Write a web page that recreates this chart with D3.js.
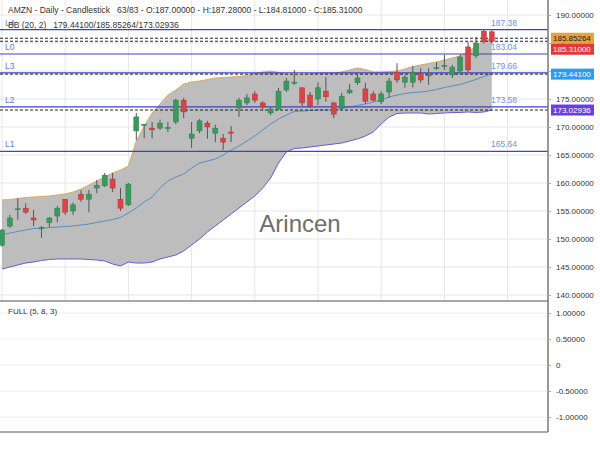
<!DOCTYPE html>
<html><head><meta charset="utf-8">
<script src="https://cdn.jsdelivr.net/npm/d3@7/dist/d3.min.js"></script>
<style>body{margin:0;background:#fff}svg{display:block;font-family:"Liberation Sans",Arial,sans-serif}</style>
</head><body><svg id="c" width="600" height="450"></svg>
<script>
const openV=[148.9,152.3,155.3,155.5,153.75,151.9,152.9,154.1,157.1,155.0,158.0,157.1,159.1,159.5,160.7,157.1,156.1,169.3,170.3,169.8,169.8,169.8,170.9,174.8,168.0,169.3,170.7,168.9,168.0,169.1,173.4,174.3,175.9,174.3,172.5,173.2,176.6,177.9,177.0,175.7,175.0,176.4,174.3,173.4,176.1,177.9,176.8,175.9,174.5,176.25,179.8,178.0,178.0,179.6,179.2,180.5,180.9,179.3,180.0,184.3,182.7,187.1,187.0];
const highV=[151.8,154.3,157.3,156.4,155.2,152.3,153.9,155.9,157.1,156.5,158.75,158.75,160.5,161.8,161.8,159.1,160.0,172.5,170.5,170.9,171.3,170.9,175.0,175.2,170.9,171.4,171.1,170.4,168.75,170.2,175.2,175.9,176.4,174.6,173.6,177.0,178.75,180.2,177.1,176.25,178.0,178.9,174.5,176.1,177.7,179.3,177.9,176.4,176.4,178.75,181.4,179.3,180.9,180.5,180.5,181.6,182.9,181.1,183.0,185.2,186.1,187.4,187.28];
const lowV=[148.6,152.0,153.4,154.5,152.3,150.2,152.1,153.0,154.3,154.3,156.6,154.8,158.2,159.3,158.4,155.0,155.9,167.7,168.0,168.0,169.5,169.1,170.5,171.6,166.25,168.9,167.9,167.3,165.9,167.3,171.8,173.9,174.3,173.0,172.1,173.0,176.25,177.5,173.6,173.4,173.9,174.5,171.6,173.0,175.9,177.5,174.1,174.5,174.1,175.2,177.9,177.0,177.1,177.9,177.5,180.2,180.2,178.75,179.8,179.8,182.3,184.9,184.81];
const closeV=[151.6,153.75,155.4,154.8,153.4,152.0,153.75,155.5,154.8,156.1,157.1,158.0,159.6,161.4,159.1,155.5,159.8,171.8,170.5,169.5,170.7,169.9,174.8,172.7,168.75,171.1,170.0,169.8,167.3,168.9,174.8,175.2,174.8,173.6,173.2,176.4,178.2,178.0,174.3,173.75,177.0,175.4,172.3,175.5,176.6,178.75,174.6,174.8,175.9,178.2,178.4,178.9,179.8,178.4,179.3,180.6,181.0,180.7,182.5,180.2,185.0,185.3,185.31];
const bbUpper=[156.96,157.05,157.23,157.41,157.50,157.59,157.68,157.86,158.04,158.39,158.93,159.64,160.36,161.07,161.79,162.32,163.04,167.50,170.18,172.50,174.11,175.71,176.61,177.68,178.04,178.21,178.48,178.75,178.84,178.93,179.02,179.20,179.55,179.82,180.00,179.73,179.38,179.29,179.38,179.46,179.55,179.64,179.64,179.82,180.18,180.54,180.27,179.82,179.82,179.91,180.00,180.36,180.80,181.07,181.34,181.61,181.96,182.32,182.68,183.39,184.46,185.36,185.85264];
const bbMiddle=[150.71,151.07,151.34,151.61,151.88,151.96,152.05,152.14,152.23,152.32,152.50,152.68,152.95,153.21,153.48,153.84,154.64,155.54,156.61,157.50,159.11,160.36,161.07,161.61,162.68,163.57,163.93,164.29,165.00,165.89,166.61,167.50,168.39,169.46,170.54,171.43,172.14,172.77,172.86,172.95,173.04,173.04,173.04,173.30,173.57,173.84,174.11,174.46,174.82,175.36,175.71,175.98,176.16,176.25,176.43,176.70,177.05,177.32,177.59,178.04,178.48,179.02,179.441];
const bbLower=[144.64,145.00,145.36,145.71,145.89,146.16,146.34,146.43,146.43,146.43,146.43,146.34,146.25,146.07,145.54,145.18,145.89,145.71,145.71,145.89,146.43,146.79,147.14,147.86,148.93,150.00,151.25,152.32,153.39,154.46,155.54,156.61,157.68,159.11,160.89,163.57,165.54,166.16,166.25,166.43,166.61,166.79,166.96,167.14,167.50,167.86,168.39,169.11,170.54,171.79,172.41,172.50,172.50,172.50,172.32,172.41,172.50,172.59,172.59,172.68,172.59,172.68,173.02936];
const levelNames=["L4","L0","L3","L2","L1"];
const levelValues=[187.38,183.04,179.66,173.58,165.64];
const markerValues=[185.85264,185.31,179.441,173.02936];
const markerLabels=["185.85264","185.31000","179.44100","173.02936"];
const markerColors=["#e6a23c","#e0393b","#2b9cf2","#6a3fe0"];
const markerText=["#222","#fff","#fff","#fff"];
const markerOffset=[0,8,0,0];
const priceTicks=[140,145,150,155,160,165,170,175,180,185,190];
const oscTicks=[1,0.5,0,-0.5,-1];
const oscTickLabels=["1.00000","0.50000","0","-0.50000","-1.00000"];
const headerText="AMZN - Daily - Candlestick   63/83 - O:187.00000 - H:187.28000 - L:184.81000 - C:185.31000";
const bbText="BB (20, 2)   179.44100/185.85264/173.02936";

const svg=d3.select("#c");
const W=548;
const n=openV.length;
const x=d3.scaleLinear().domain([0,n-1]).range([2,491.8]);
const y=d3.scaleLinear().domain([140,190]).range([295,15]);
const y2=d3.scaleLinear().domain([-1,1]).range([417,313]);
const idx=d3.range(n);

// grid main
const g=svg.append("g");
g.selectAll(".hg").data(priceTicks).join("line").attr("x1",0).attr("x2",W)
 .attr("y1",d=>y(d)).attr("y2",d=>y(d)).attr("stroke","#e6e6e6");
g.selectAll(".vg").data(d3.range(0,70,8)).join("line").attr("x1",d=>x(d)).attr("x2",d=>x(d))
 .attr("y1",0).attr("y2",301).attr("stroke","#e6e6e6");
g.selectAll(".hg2").data(oscTicks).join("line").attr("x1",0).attr("x2",W)
 .attr("y1",d=>y2(d)).attr("y2",d=>y2(d)).attr("stroke","#ececec");

// band
svg.append("path").datum(idx).attr("fill","#bdbdbd")
 .attr("d",d3.area().x(i=>x(i)).y0(i=>y(bbLower[i])).y1(i=>y(bbUpper[i])));
const line=arr=>d3.line().x(i=>x(i)).y(i=>y(arr[i]));
svg.append("path").datum(idx).attr("fill","none").attr("stroke","#d7aa60").attr("stroke-width",1).attr("d",line(bbUpper));
svg.append("path").datum(idx).attr("fill","none").attr("stroke","#6a58d8").attr("stroke-width",1).attr("d",line(bbLower));
svg.append("path").datum(idx).attr("fill","none").attr("stroke","#5b8cc0").attr("stroke-width",1).attr("d",line(bbMiddle));

// watermark
svg.append("text").attr("x",300).attr("y",232).attr("text-anchor","middle")
 .attr("font-size",24).attr("fill","#6d6d6d").text("Arincen");

// level lines
svg.selectAll(".lv").data(levelValues).join("line").attr("x1",0).attr("x2",W)
 .attr("y1",d=>y(d)).attr("y2",d=>y(d)).attr("stroke","#4040cc").attr("stroke-width",1.2);
svg.selectAll(".lvn").data(levelNames).join("text").attr("x",5).attr("y",(d,i)=>y(levelValues[i])-4)
 .attr("font-size",8.5).attr("fill","#5a7de0").text(d=>d);
svg.selectAll(".lvv").data(levelValues).join("text").attr("x",491).attr("y",d=>y(d)-4)
 .attr("font-size",8.5).attr("fill","#6a8ff0").text(d=>d.toFixed(2));

// dashed marker lines
svg.selectAll(".mk").data(markerValues).join("line").attr("x1",0).attr("x2",W)
 .attr("y1",d=>y(d)).attr("y2",d=>y(d)).attr("stroke","#222").attr("stroke-width",1).attr("stroke-dasharray","3,2");

// candles
const cg=svg.append("g");
idx.forEach(i=>{
  const up=closeV[i]>=openV[i];
  const col=up?"#3a9a5c":"#d94444";
  cg.append("line").attr("x1",x(i)).attr("x2",x(i)).attr("y1",y(highV[i])).attr("y2",y(lowV[i]))
    .attr("stroke","#555").attr("stroke-width",1);
  const top=y(Math.max(openV[i],closeV[i])), bot=y(Math.min(openV[i],closeV[i]));
  cg.append("rect").attr("x",x(i)-2.5).attr("y",top).attr("width",5).attr("height",Math.max(1,bot-top))
    .attr("fill",col).attr("stroke",up?"#2f8050":"#b83535").attr("stroke-width",0.5);
});

// panel borders
svg.append("rect").attr("x",W).attr("y",0).attr("width",52).attr("height",450).attr("fill","#fff");
svg.append("line").attr("x1",0).attr("x2",W).attr("y1",301).attr("y2",301).attr("stroke","#555").attr("stroke-width",1);
svg.append("line").attr("x1",0).attr("x2",W).attr("y1",432).attr("y2",432).attr("stroke","#555").attr("stroke-width",1);
svg.append("line").attr("x1",W).attr("x2",W).attr("y1",0).attr("y2",432).attr("stroke","#777").attr("stroke-width",1.5);

// axis labels
const ax=d3.axisRight(y).tickValues(priceTicks).tickFormat(d=>d.toFixed(5)).tickSize(3).tickPadding(5);
const axg=svg.append("g").attr("transform",`translate(${W},0)`).call(ax);
axg.select(".domain").remove();
axg.selectAll("text").attr("font-size",8).attr("fill","#333").attr("font-family","Liberation Sans, Arial, sans-serif");
axg.selectAll("line").attr("stroke","#aaa");
const ax2=d3.axisRight(y2).tickValues(oscTicks).tickFormat((d,i)=>oscTickLabels[i]).tickSize(3).tickPadding(5);
const ax2g=svg.append("g").attr("transform",`translate(${W},0)`).call(ax2);
ax2g.select(".domain").remove();
ax2g.selectAll("text").attr("font-size",8).attr("fill","#333").attr("font-family","Liberation Sans, Arial, sans-serif");
ax2g.selectAll("line").attr("stroke","#aaa");

// marker boxes
markerValues.forEach((v,i)=>{
  const cy=y(v)+markerOffset[i];
  svg.append("rect").attr("x",551).attr("y",cy-5.5).attr("width",43).attr("height",11).attr("fill",markerColors[i]);
  svg.append("text").attr("x",553).attr("y",cy+3).attr("font-size",8).attr("fill",markerText[i]).text(markerLabels[i]);
});

// header texts
svg.append("text").attr("x",8).attr("y",13).attr("font-size",8.5).attr("fill","#333").attr("xml:space","preserve").style("white-space","pre").text(headerText);
svg.append("text").attr("x",8).attr("y",28).attr("font-size",8.5).attr("fill","#333").style("white-space","pre").text(bbText);
svg.append("text").attr("x",8).attr("y",314).attr("font-size",8).attr("fill","#333").text("FULL (5, 8, 3)");
</script></body></html>
